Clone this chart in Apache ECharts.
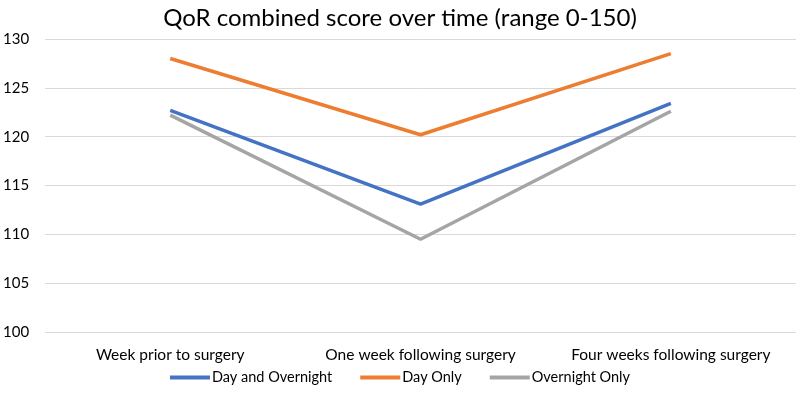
<!DOCTYPE html>
<html>
<head>
<meta charset="utf-8">
<script src="https://cdn.jsdelivr.net/npm/echarts@6/dist/echarts.min.js"></script>
<style>
  html, body { margin: 0; padding: 0; background: #fff; }
  #chart { width: 800px; height: 400px; }
</style>
</head>
<body>
<div id="chart"></div>
<script>
// data
var categories = ['Week prior to surgery', 'One week following surgery', 'Four weeks following surgery'];
var dayAndOvernight = [122.7, 113.1, 123.4];
var dayOnly = [128.0, 120.2, 128.5];
var overnightOnly = [122.2, 109.5, 122.6];

var font = 'Lato, "Open Sans", sans-serif';

var myChart = echarts.init(document.getElementById('chart'));

function lineSeries(name, data, color) {
    return {
        name: name,
        type: 'line',
        data: data,
        showSymbol: false,
        symbol: 'none',
        lineStyle: { width: 3.5, color: color },
        itemStyle: { color: color }
    };
}

myChart.setOption({
    animation: false,
    title: {
        text: 'QoR combined score over time (range 0-150)',
        left: 'center',
        top: 1,
        textStyle: { fontFamily: font, fontSize: 24, fontWeight: 'normal', color: '#000' }
    },
    legend: {
        bottom: 10,
        left: 'center',
        itemWidth: 40,
        itemHeight: 4,
        itemGap: 28,
        icon: 'rect',
        textStyle: { fontFamily: font, fontSize: 14.5, color: '#000', padding: [0, 0, 0, -3] },
        data: ['Day and Overnight', 'Day Only', 'Overnight Only']
    },
    grid: { left: 42, right: 4, top: 39, bottom: 68, containLabel: false },
    xAxis: {
        type: 'category',
        data: categories,
        boundaryGap: true,
        axisLine: { show: false },
        axisTick: { show: false },
        axisLabel: { interval: 0, hideOverlap: false, fontFamily: font, fontSize: 15.5, color: '#000', margin: 15 }
    },
    yAxis: {
        type: 'value',
        min: 100,
        max: 130,
        interval: 5,
        axisLine: { show: false },
        axisTick: { show: false },
        axisLabel: { fontFamily: font, fontSize: 15, color: '#000', margin: 16 },
        splitLine: { lineStyle: { color: '#d9d9d9', width: 1 } }
    },
    series: [
        lineSeries('Day and Overnight', dayAndOvernight, '#4472C4'),
        lineSeries('Day Only', dayOnly, '#ED7D31'),
        lineSeries('Overnight Only', overnightOnly, '#A5A5A5')
    ]
});
</script>
</body>
</html>
